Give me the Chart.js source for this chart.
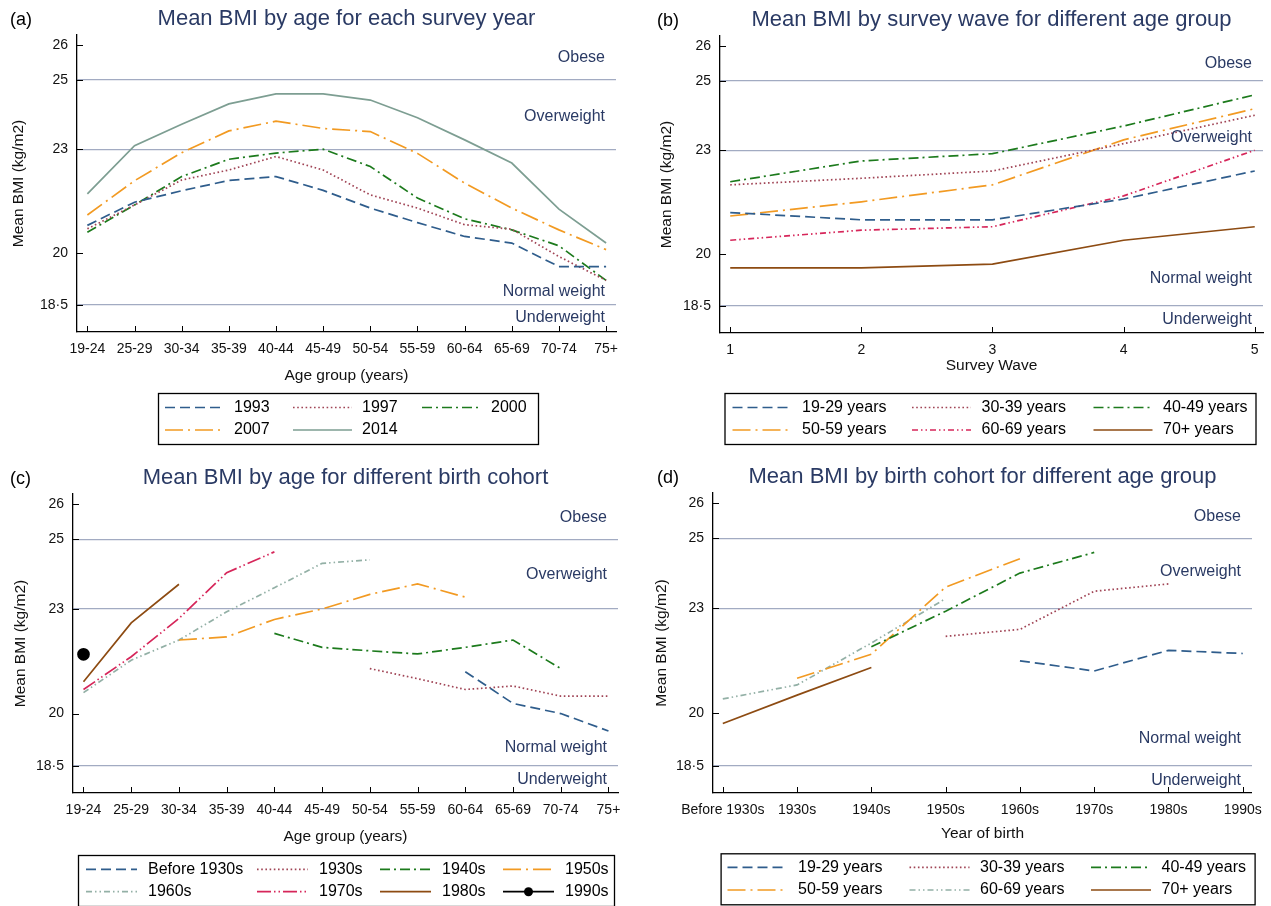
<!DOCTYPE html>
<html>
<head>
<meta charset="utf-8">
<script src="https://cdn.jsdelivr.net/npm/chart.js@4.4.1/dist/chart.umd.min.js"></script>
<style>
  html, body { margin: 0; padding: 0; background: #fff; }
  #wrap { position: relative; width: 1271px; height: 906px; }
  canvas { position: absolute; }
</style>
</head>
<body>
<div id="wrap">
  <canvas id="chart-a" width="640" height="453" style="left:0;top:0"></canvas>
  <canvas id="chart-b" width="631" height="453" style="left:640px;top:0"></canvas>
  <canvas id="chart-c" width="640" height="453" style="left:0;top:453px"></canvas>
  <canvas id="chart-d" width="631" height="453" style="left:640px;top:453px"></canvas>
</div>
<script>
// ---- data ----
const ageGroups = ['19-24', '25-29', '30-34', '35-39', '40-44', '45-49', '50-54', '55-59', '60-64', '65-69', '70-74', '75+'];
const surveyWaves = [1, 2, 3, 4, 5];
const birthCohorts = ['Before 1930s', '1930s', '1940s', '1950s', '1960s', '1970s', '1980s', '1990s'];

const bmiTicks = [18.5, 20, 23, 25, 26];
const bmiTickLabels = ['18·5', '20', '23', '25', '26'];
const bmiCutoffs = [18.5, 23, 25];
const zoneNames = ['Obese', 'Overweight', 'Normal weight', 'Underweight'];

// (a) by age, each survey year
const bmi1993 = [20.8, 21.47, 21.8, 22.1, 22.21, 21.81, 21.3, 20.88, 20.48, 20.29, 19.61, 19.61];
const bmi1997 = [20.7, 21.39, 22.11, 22.4, 22.79, 22.4, 21.68, 21.3, 20.82, 20.69, 19.9, 19.21];
const bmi2000 = [20.6, 21.39, 22.21, 22.71, 22.89, 23.0, 22.5, 21.59, 20.99, 20.67, 20.21, 19.21];
const bmi2007 = [21.1, 22.09, 22.9, 23.53, 23.81, 23.6, 23.51, 22.88, 22.02, 21.3, 20.67, 20.1];
const bmi2014 = [21.71, 23.1, 23.72, 24.31, 24.6, 24.6, 24.42, 23.91, 23.27, 22.6, 21.27, 20.29];

// (b) by survey wave, each age group
const wave19to29 = [21.2, 20.99, 20.99, 21.59, 22.4];
const wave30to39 = [22.0, 22.19, 22.4, 23.19, 24.01];
const wave40to49 = [22.09, 22.69, 22.9, 23.7, 24.6];
const wave50to59 = [21.1, 21.51, 22.0, 23.3, 24.2];
const wave60to69 = [20.4, 20.69, 20.79, 21.68, 23.0];
const wave70plus = [19.6, 19.6, 19.71, 20.4, 20.79];

// (c) by age, each birth cohort
const ageBefore1930s = [null, null, null, null, null, null, null, null, 21.2, 20.29, 20.0, 19.5];
const age1930s = [null, null, null, null, null, null, 21.29, 21.0, 20.69, 20.79, 20.5, 20.5];
const age1940s = [null, null, null, null, 22.3, 21.9, 21.8, 21.71, 21.9, 22.11, 21.29, null];
const age1950s = [null, null, 22.11, 22.2, 22.7, 23.0, 23.42, 23.72, 23.34, null, null, null];
const age1960s = [20.6, 21.53, 22.11, 22.92, 23.61, 24.31, 24.41, null, null, null, null, null];
const age1970s = [20.69, 21.63, 22.73, 24.04, 24.64, null, null, null, null, null, null, null];
const age1980s = [20.91, 22.6, 23.71, null, null, null, null, null, null, null, null, null];
const age1990s = [21.7, null, null, null, null, null, null, null, null, null, null, null];

// (d) by birth cohort, each age group
const cohort19to29 = [null, null, null, null, 21.5, 21.21, 21.8, 21.71];
const cohort30to39 = [null, null, null, 22.2, 22.4, 23.49, 23.7, null];
const cohort40to49 = [null, null, 21.9, 22.92, 24.01, 24.6, null, null];
const cohort50to59 = [null, 21.0, 21.69, 23.61, 24.42, null, null, null];
const cohort60to69 = [20.41, 20.81, 22.01, 23.28, null, null, null, null];
const cohort70plus = [19.71, 20.52, 21.31, null, null, null, null, null];

// ---- styles ----
const FONT = '"Liberation Sans", Arial, Helvetica, sans-serif';
const NAVY = '#2a3a64';
const BLUE = '#2f5d8c', MAROON = '#a04455', GREEN = '#1c7a1c', ORANGE = '#f29a22',
      GREYGREEN = '#7d9e92', LIGHTGREEN = '#93b0a6', CRIMSON = '#d6265a', BROWN = '#8d4b12';
const DASH = [10, 5], DOT = [1.6, 2.6], DASHDOT = [10, 4, 2, 4], LONGDASHDOT = [18, 5, 2, 5],
      DASHDOTDOT = [6, 3, 1.5, 3, 1.5, 3], LONGDASHDOTDOT = [14, 3, 1.5, 3, 1.5, 3];

Chart.defaults.font.family = FONT;
Chart.defaults.color = '#111';

function series(label, values, xs, color, dash, extra) {
  return Object.assign({
    label: label,
    data: values.map((v, i) => ({ x: xs[i], y: v })),
    borderColor: color,
    backgroundColor: color,
    borderDash: dash,
    borderWidth: 1.7,
    pointRadius: 0,
    tension: 0,
    fill: false
  }, extra || {});
}

// titles, inside ticks, zone labels and boxed legend
const panelDecor = {
  id: 'panelDecor',
  afterDraw(chart, args, o) {
    const { ctx, chartArea: a } = chart;
    const x = chart.scales.x, y = chart.scales.y;
    ctx.save();
    ctx.strokeStyle = '#000';
    ctx.lineWidth = 1;
    ctx.beginPath();
    y.ticks.forEach(t => {
      const py = Math.round(y.getPixelForValue(t.value)) + 0.5;
      ctx.moveTo(a.left, py); ctx.lineTo(a.left + 6, py);
    });
    x.ticks.forEach(t => {
      const px = Math.round(x.getPixelForValue(t.value)) + 0.5;
      ctx.moveTo(px, a.bottom); ctx.lineTo(px, a.bottom - 6);
    });
    ctx.stroke();

    ctx.textBaseline = 'middle';
    ctx.fillStyle = NAVY;
    ctx.font = '22px ' + FONT;
    ctx.textAlign = 'center';
    ctx.fillText(o.title, (a.left + a.right) / 2, a.top - 16);

    ctx.fillStyle = '#000';
    ctx.font = '18px ' + FONT;
    ctx.textAlign = 'left';
    ctx.fillText(o.letter, o.letterX, a.top - 15);

    ctx.fillStyle = NAVY;
    ctx.font = '16px ' + FONT;
    ctx.textAlign = 'right';
    zoneNames.forEach((name, i) => ctx.fillText(name, a.right - 11, y.getPixelForValue(o.zoneAt[i])));

    const L = o.legend;
    ctx.lineWidth = 1.3;
    ctx.strokeStyle = '#000';
    ctx.strokeRect(L.box[0] + 0.5, L.box[1] + 0.5, L.box[2], L.box[3]);
    ctx.font = '16px ' + FONT;
    chart.data.datasets.forEach((ds, i) => {
      const sx = L.cols[i % L.cols.length];
      const sy = L.rows[Math.floor(i / L.cols.length)];
      ctx.save();
      ctx.strokeStyle = ds.borderColor;
      ctx.lineWidth = ds.borderWidth;
      ctx.setLineDash(ds.borderDash || []);
      ctx.beginPath(); ctx.moveTo(sx, sy); ctx.lineTo(sx + L.len, sy); ctx.stroke();
      ctx.restore();
      if (ds.pointRadius) {
        ctx.fillStyle = ds.pointBackgroundColor || ds.borderColor;
        ctx.beginPath(); ctx.arc(sx + L.len / 2, sy, ds.pointRadius - 1, 0, Math.PI * 2); ctx.fill();
      }
      ctx.fillStyle = '#000';
      ctx.textAlign = 'left';
      ctx.fillText(ds.label, sx + L.gap, sy);
    });
    ctx.restore();
  }
};

function makePanel(id, p) {
  new Chart(document.getElementById(id), {
    type: 'line',
    data: { datasets: p.datasets },
    plugins: [panelDecor],
    options: {
      responsive: false,
      animation: false,
      events: [],
      layout: { autoPadding: false, padding: p.padding },
      plugins: {
        legend: { display: false },
        tooltip: { enabled: false },
        panelDecor: p.decor
      },
      scales: {
        x: {
          type: 'linear',
          min: p.xMin,
          max: p.xMax,
          afterBuildTicks: s => { s.ticks = p.xTicks.map(v => ({ value: v })); },
          afterFit: s => { s.height = p.xHeight; },
          ticks: { autoSkip: false, maxRotation: 0, minRotation: 0, padding: 9,
                   font: { size: 14 }, color: '#111', callback: p.xLabel },
          grid: { display: false, drawTicks: false },
          border: { display: true, color: '#000', width: 1.3 },
          title: { display: true, text: p.xTitle, font: { size: 15.5 }, color: '#111', padding: 0 }
        },
        y: {
          type: 'linear',
          min: 17.72,
          max: 26.3,
          afterBuildTicks: s => { s.ticks = bmiTicks.map(v => ({ value: v })); },
          afterFit: s => { s.width = p.yWidth; },
          ticks: { autoSkip: false, padding: 9, font: { size: 14 }, color: '#111',
                   callback: v => bmiTickLabels[bmiTicks.indexOf(v)] },
          grid: {
            drawTicks: false,
            lineWidth: 1.3,
            color: c => (c.tick && bmiCutoffs.includes(c.tick.value)) ? '#a2abc2' : 'rgba(0,0,0,0)'
          },
          border: { display: true, color: '#000', width: 1.3 },
          title: { display: true, text: 'Mean BMI (kg/m2)', font: { size: 15.5 }, color: '#111',
                   padding: { top: p.yTitlePad, bottom: 0 } }
        }
      }
    }
  });
}

const idx12 = ageGroups.map((_, i) => i);
const idx8 = birthCohorts.map((_, i) => i);

makePanel('chart-a', {
  padding: { left: 0, top: 35, right: 24, bottom: 68 },
  yWidth: 77, xHeight: 53, yTitlePad: 9,
  xMin: -0.22, xMax: 11.21, xTicks: idx12, xLabel: v => ageGroups[v],
  xTitle: 'Age group (years)',
  datasets: [
    series('1993', bmi1993, idx12, BLUE, DASH),
    series('1997', bmi1997, idx12, MAROON, DOT),
    series('2000', bmi2000, idx12, GREEN, DASHDOT),
    series('2007', bmi2007, idx12, ORANGE, LONGDASHDOT),
    series('2014', bmi2014, idx12, GREYGREEN, [])
  ],
  decor: {
    title: 'Mean BMI by age for each survey year', letter: '(a)', letterX: 10,
    zoneAt: [25.66, 23.93, 18.9, 18.13],
    legend: { box: [158, 393, 380, 51], cols: [165, 293, 422], rows: [407.5, 430], len: 59, gap: 69 }
  }
});

makePanel('chart-b', {
  padding: { left: 0, top: 36, right: 8, bottom: 78 },
  yWidth: 80, xHeight: 42, yTitlePad: 17.5,
  xMin: 0.922, xMax: 5.063, xTicks: surveyWaves, xLabel: v => String(v),
  xTitle: 'Survey Wave',
  datasets: [
    series('19-29 years', wave19to29, surveyWaves, BLUE, DASH),
    series('30-39 years', wave30to39, surveyWaves, MAROON, DOT),
    series('40-49 years', wave40to49, surveyWaves, GREEN, DASHDOT),
    series('50-59 years', wave50to59, surveyWaves, ORANGE, LONGDASHDOT),
    series('60-69 years', wave60to69, surveyWaves, CRIMSON, DASHDOTDOT),
    series('70+ years', wave70plus, surveyWaves, BROWN, [])
  ],
  decor: {
    title: 'Mean BMI by survey wave for different age group', letter: '(b)', letterX: 17,
    zoneAt: [25.5, 23.36, 19.3, 18.1],
    legend: { box: [84.5, 393, 531, 51], cols: [92.5, 272, 453.5], rows: [407.5, 430], len: 59, gap: 69.5 }
  }
});

makePanel('chart-c', {
  padding: { left: 0, top: 41, right: 22, bottom: 60 },
  yWidth: 73, xHeight: 53, yTitlePad: 11.5,
  xMin: -0.22, xMax: 11.2, xTicks: idx12, xLabel: v => ageGroups[v],
  xTitle: 'Age group (years)',
  datasets: [
    series('Before 1930s', ageBefore1930s, idx12, BLUE, DASH),
    series('1930s', age1930s, idx12, MAROON, DOT),
    series('1940s', age1940s, idx12, GREEN, DASHDOT),
    series('1950s', age1950s, idx12, ORANGE, LONGDASHDOT),
    series('1960s', age1960s, idx12, LIGHTGREEN, DASHDOTDOT),
    series('1970s', age1970s, idx12, CRIMSON, LONGDASHDOTDOT),
    series('1980s', age1980s, idx12, BROWN, []),
    series('1990s', age1990s, idx12, '#000', [], { pointRadius: 5.5, pointBackgroundColor: '#000' })
  ],
  decor: {
    title: 'Mean BMI by age for different birth cohort', letter: '(c)', letterX: 10,
    zoneAt: [25.63, 23.98, 19.03, 18.11],
    legend: { box: [78, 402, 536, 51], cols: [86, 257, 380, 503], rows: [416.3, 438.7], len: 51, gap: 62 }
  }
});

makePanel('chart-d', {
  padding: { left: 0, top: 40, right: 9, bottom: 63 },
  yWidth: 73, xHeight: 50, yTitlePad: 12,
  xMin: -0.132, xMax: 7.124, xTicks: idx8, xLabel: v => birthCohorts[v],
  xTitle: 'Year of birth',
  datasets: [
    series('19-29 years', cohort19to29, idx8, BLUE, DASH),
    series('30-39 years', cohort30to39, idx8, MAROON, DOT),
    series('40-49 years', cohort40to49, idx8, GREEN, DASHDOT),
    series('50-59 years', cohort50to59, idx8, ORANGE, LONGDASHDOT),
    series('60-69 years', cohort60to69, idx8, LIGHTGREEN, DASHDOTDOT),
    series('70+ years', cohort70plus, idx8, BROWN, [])
  ],
  decor: {
    title: 'Mean BMI by birth cohort for different age group', letter: '(d)', letterX: 17,
    zoneAt: [25.63, 24.04, 19.28, 18.07],
    legend: { box: [80.6, 400.3, 534, 51], cols: [87.5, 269.5, 451], rows: [414.3, 437], len: 60, gap: 70.5 }
  }
});
</script>
</body>
</html>
